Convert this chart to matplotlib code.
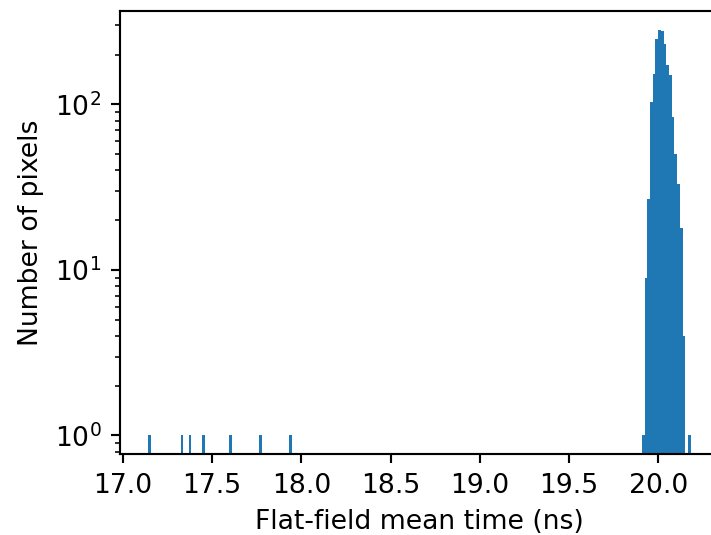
import numpy as np
import matplotlib
matplotlib.use("Agg")
import matplotlib.pyplot as plt

# Histogram binning (200 equal bins)
bin_start = 17.1401
bin_width = 0.015211
n_bins = 200

# Non-empty bins: index -> number of pixels
bin_index = [0, 12, 15, 20, 30, 41, 52,
             182, 183, 184, 185, 186, 187, 188, 189, 190, 191, 192, 193,
             194, 195, 196, 197, 199]
bin_count = [1, 1, 1, 1, 1, 1, 1,
             1, 9, 27, 103, 152, 250, 283, 279, 233, 172, 150, 84,
             50, 33, 18, 4, 1]

x_ticks = [17.0, 17.5, 18.0, 18.5, 19.0, 19.5, 20.0]

edges = bin_start + bin_width * np.arange(n_bins + 1)
centers = 0.5 * (edges[:-1] + edges[1:])
counts = np.zeros(n_bins)
counts[bin_index] = bin_count

W, H, DPI = 711, 535, 192
fig = plt.figure(figsize=(W / DPI, H / DPI), dpi=DPI)
left_px, right_px, top_px, bottom_px = 120, 717.8, 11, 454
ax = fig.add_axes([left_px / W, 1 - bottom_px / H,
                   (right_px - left_px) / W, (bottom_px - top_px) / H])

ax.hist(centers, bins=edges, weights=counts, log=True, color="#1f77b4")
ax.set_xlim(16.983, 20.334)
ax.set_ylim(0.773, 367)
ax.set_xticks(x_ticks)
ax.set_xlabel("Flat-field mean time (ns)")
ax.set_ylabel("Number of pixels")

fig.savefig("out.png", dpi=DPI)
